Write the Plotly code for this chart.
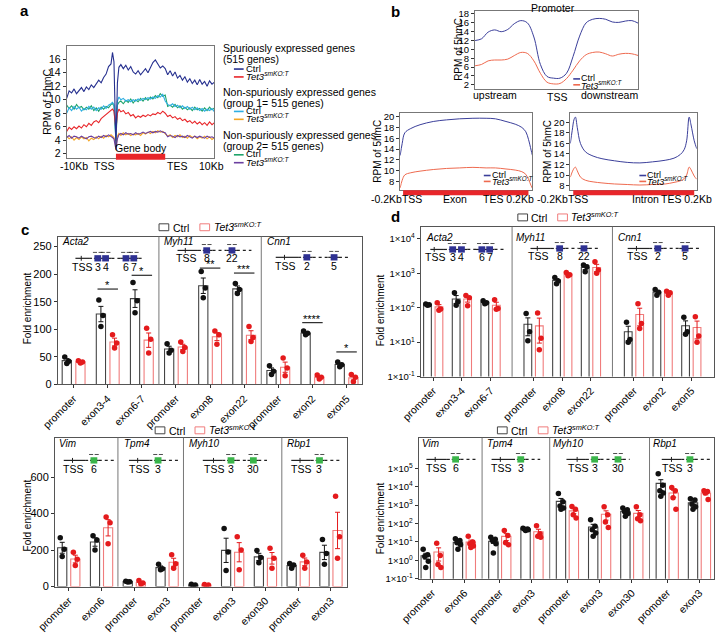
import numpy as np
import plotly.graph_objects as go

W, H = 723, 633
FONT = "Liberation Sans, Arial, Helvetica, sans-serif"
TET3 = "<i>Tet3<sup>smKO:T</sup></i>"

# ---------------- Panel a : 5hmC metagene profiles ----------------
A_X = [0, 5, 10, 15, 20, 25, 30, 35, 40, 45, 50, 55, 60, 65, 70, 75, 80, 85, 90, 93, 96, 100, 103, 106,
       110, 115, 120, 125, 130, 135, 140, 145, 150, 155, 160, 165, 170, 175, 180, 185, 190, 195, 200,
       205, 210, 215, 220, 225, 230, 235, 240, 245, 250, 255, 260, 265, 270, 275, 280, 285, 290, 295, 300]
A_SPUR_CTRL = [10.2, 11.3, 11.0, 11.6, 10.9, 11.4, 11.8, 11.2, 11.9, 11.5, 12.2, 11.8, 12.4, 12.9, 12.5, 13.3, 13.8, 14.9, 15.3,
               17.0, 15.6, 3.0, 12.5, 14.8,
               15.2, 14.6, 15.1, 14.4, 14.9, 14.1, 13.8, 14.3, 13.7, 14.2, 14.6, 14.0, 14.8, 15.5, 15.9, 15.2, 14.7, 15.0, 14.6,
               13.7, 14.3, 13.5, 14.1, 13.2, 13.6, 12.9, 13.4, 12.6, 13.1, 12.4, 12.9, 12.2, 13.0, 12.3, 12.7, 12.0, 12.8, 12.3, 12.6]
A_SPUR_TET3 = [5.3, 5.9, 5.6, 6.0, 5.7, 6.1, 5.8, 6.3, 6.0, 6.5, 6.2, 6.7, 6.9, 6.6, 7.2, 7.5, 7.9, 8.1, 8.4,
               8.6, 8.3, 5.5, 8.0, 8.6,
               8.2, 8.4, 7.9, 8.1, 7.6, 7.8, 7.3, 7.6, 7.4, 7.7, 7.5, 7.8, 7.6, 7.9, 7.8, 8.1, 7.9, 8.3, 8.0,
               7.5, 7.7, 7.3, 7.5, 7.1, 7.3, 6.9, 7.1, 6.7, 6.9, 6.5, 6.8, 6.4, 6.7, 6.3, 6.6, 6.2, 6.7, 6.3, 6.6]
A_G1_CTRL = [8.0, 8.8, 8.4, 9.0, 8.6, 8.9, 8.3, 8.7, 8.5, 9.0, 8.6, 8.9, 8.4, 8.8, 8.6, 9.1, 8.7, 9.2, 9.4,
             9.6, 9.3, 4.0, 9.8, 10.4,
             10.0, 10.2, 9.8, 10.0, 9.7, 10.0, 9.8, 10.1, 9.9, 10.2, 10.0, 10.3, 10.1, 10.4, 10.2, 10.6, 10.4, 10.8, 9.8,
             9.3, 9.1, 9.4, 9.0, 9.2, 8.8, 9.1, 8.7, 9.0, 8.6, 8.9, 8.5, 8.8, 8.4, 8.7, 8.3, 8.6, 8.4, 8.7, 8.2]
A_G1_TET3 = [4.6, 4.2, 4.5, 4.0, 4.4, 4.1, 4.5, 4.2, 4.4, 3.9, 4.3, 4.1, 4.5, 4.2, 4.6, 4.3, 4.7, 4.5, 4.8,
             4.6, 4.4, 3.0, 4.6, 5.0,
             4.7, 5.1, 4.8, 5.0, 4.7, 4.9, 4.8, 5.0, 4.7, 5.1, 4.9, 5.2, 5.0, 5.3, 5.1, 5.4, 5.2, 5.3, 5.0,
             4.6, 4.8, 4.4, 4.7, 4.5, 4.8, 4.4, 4.6, 4.3, 4.7, 4.4, 4.6, 4.2, 4.5, 4.3, 4.6, 4.2, 4.5, 4.1, 4.4]
A_G2_CTRL = [9.2, 8.7, 9.1, 8.6, 9.3, 8.8, 9.0, 8.5, 8.9, 8.6, 9.1, 8.4, 8.8, 8.3, 8.9, 8.6, 9.0, 8.8, 9.3,
             9.4, 9.1, 3.8, 9.2, 9.6,
             9.8, 9.4, 9.9, 9.6, 10.1, 9.5, 10.0, 9.7, 10.2, 9.8, 10.3, 9.9, 10.4, 10.1, 10.6, 10.3, 10.9, 10.5, 10.7,
             9.0, 9.2, 8.9, 9.3, 8.8, 9.1, 8.6, 8.9, 8.5, 8.8, 8.4, 8.9, 8.5, 8.7, 8.3, 8.8, 8.4, 8.9, 8.5, 8.8]
A_G2_TET3 = [4.4, 4.7, 4.3, 4.6, 4.5, 4.3, 4.6, 4.4, 4.2, 4.5, 4.6, 4.4, 4.3, 4.6, 4.4, 4.7, 4.5, 4.8, 4.6,
             4.4, 4.2, 2.6, 4.2, 4.8,
             5.0, 4.8, 5.1, 4.9, 5.0, 4.8, 5.1, 4.9, 5.0, 5.2, 5.0, 5.1, 5.3, 5.1, 5.3, 5.2, 5.4, 5.2, 5.1,
             4.5, 4.7, 4.6, 4.4, 4.7, 4.5, 4.6, 4.4, 4.7, 4.5, 4.3, 4.6, 4.4, 4.6, 4.5, 4.3, 4.6, 4.4, 4.5, 4.3]

# ---------------- Panel b : promoter / exon / intron ----------------
B_PROM_X = [0, 4, 8, 12, 16, 20, 24, 28, 32, 36, 40, 44, 48, 52, 56, 60, 64, 68, 72, 76, 80, 84, 88, 92, 96, 100]
B_PROM_CTRL = [12.0, 12.4, 13.9, 14.4, 14.0, 14.5, 15.8, 16.5, 16.0, 12.8, 6.6, 3.9, 3.5, 3.5, 4.6, 8.4, 13.0, 16.0,
               16.8, 17.0, 16.8, 16.2, 16.1, 16.4, 16.5, 15.9]
B_PROM_TET3 = [6.3, 6.6, 7.4, 7.6, 7.6, 7.8, 8.6, 9.3, 9.1, 7.4, 4.6, 2.6, 2.2, 2.3, 3.4, 5.3, 7.4, 8.8,
               9.3, 9.4, 9.0, 8.5, 8.9, 9.1, 9.0, 8.6]
B_EXON_X = [0, 1.5, 3.5, 8, 15, 25, 35, 45, 55, 65, 72, 80, 87, 92, 95, 97, 99, 100]
B_EXON_CTRL = [12.8, 15.0, 17.0, 17.8, 18.5, 19.1, 19.4, 19.6, 19.7, 19.7, 19.6, 19.1, 18.6, 18.0, 17.2, 15.8, 13.8, 12.8]
B_EXON_TET3 = [6.8, 8.2, 9.2, 9.6, 9.9, 10.2, 10.4, 10.5, 10.6, 10.5, 10.5, 10.3, 10.1, 9.8, 9.3, 8.4, 7.2, 6.7]
B_INT_X = [0, 1.5, 3, 4, 5.5, 8, 12, 18, 25, 35, 45, 55, 65, 75, 82, 87, 90, 92, 94, 95.5, 98, 100]
B_INT_CTRL = [16.0, 18.5, 20.6, 21.0, 19.0, 16.0, 14.4, 13.6, 13.1, 12.7, 12.4, 12.3, 12.5, 12.8, 13.2, 13.9, 14.8,
              16.5, 21.0, 19.5, 16.5, 15.0]
B_INT_TET3 = [9.6, 10.6, 11.3, 11.5, 10.8, 9.6, 9.0, 8.7, 8.5, 8.3, 8.2, 8.1, 8.2, 8.3, 8.6, 8.9, 9.3, 10.0,
              11.5, 11.0, 9.8, 9.2]

# ---------------- Panel c / d : ChIP fold enrichment ----------------
CAT_TOP = ["promoter", "exon3-4", "exon6-7", "promoter", "exon8", "exon22", "promoter", "exon2", "exon5"]
CAT_BOT = ["promoter", "exon6", "promoter", "exon3", "promoter", "exon3", "exon30", "promoter", "exon3"]

CT_CTRL = [[50, 42, 38], [153, 125, 105], [185, 152, 130], [74, 62, 57], [205, 175, 157],
           [183, 172, 165], [34, 24, 18], [97, 93, 90], [41, 36, 32]]
CT_TET3 = [[43, 41, 39], [90, 75, 66], [102, 82, 57], [77, 67, 60], [97, 90, 73],
           [105, 85, 78], [48, 30, 16], [17, 13, 10], [18, 13, 5]]
CB_CTRL = [[268, 205, 165], [278, 255, 200], [29, 27, 25], [122, 98, 92], [13, 9, 5],
           [318, 190, 88], [198, 160, 130], [126, 118, 100], [258, 182, 122]]
CB_TET3 = [[188, 150, 115], [382, 350, 235], [33, 20, 14], [175, 125, 100], [11, 8, 5],
           [273, 200, 92], [210, 155, 100], [172, 135, 100], [495, 273, 155]]
DT_CTRL = [[128, 122, 118], [270, 150, 118], [160, 140, 130], [68, 20, 11], [760, 600, 500],
           [1750, 1550, 1100], [38, 12, 10], [340, 280, 230], [53, 20, 17]]
DT_TET3 = [[140, 92, 85], [225, 195, 115], [170, 95, 90], [70, 13, 6], [1050, 900, 850],
           [2150, 1250, 1000], [130, 35, 25], [300, 270, 230], [55, 15, 10]]
DB_CTRL = [[4.0, 2.0, 1.6, 0.9, 0.4], [15, 12, 9, 7, 4], [18, 14, 12, 8, 2.5], [55, 50, 48, 45, 42],
           [4300, 1500, 900, 700, 600], [160, 70, 45, 30, 20], [700, 550, 450, 350, 250],
           [50000, 12000, 6000, 4500, 3000], [2200, 1900, 1100, 800, 600]]
DB_TET3 = [[8.5, 1.8, 0.6, 0.4], [20, 10, 8, 6, 5], [42, 22, 9, 7], [75, 28, 20, 18],
           [850, 600, 300, 200], [800, 300, 120, 60], [800, 300, 180, 140],
           [9000, 6000, 2500, 600], [6000, 5500, 4500, 2000]]
SIG_C = [(1, 173, "*"), (2, 198, "*"), (4, 211, "**"), (5, 202, "***"), (7, 112, "****"), (8, 59, "*")]

POS_CT = [0, 1, 2, 3, 4, 5, 6, 7, 8]
POS_CB = [0, 1, 2, 3, 4, 5, 6, 7, 8]
POS_DT = [0, 1, 2, 3.5, 4.5, 5.5, 7, 8, 9]
POS_DB = [0, 1, 2.1, 3.1, 4.2, 5.2, 6.2, 7.3, 8.3]

NAVY = "#26308f"
RED = "#e8262a"
CYAN = "#2eaee3"
ORANGE = "#f5a623"
GREEN = "#1ea36a"
PURPLE = "#6b3fa0"
B_NAVY = "#3b3f9a"
B_RED = "#ee6a4f"
CTRL_LINE = "#444444"
TET_LINE = "#f07c7c"
TET_PT = "#e41a1c"
BLUE_BOX = "#2e3192"
GREEN_BOX = "#3ab54a"


def fx(p):
    return p / W


def fy(p):
    return 1 - p / H


fig = go.Figure()
ann = []
shp = []


def txt(x, y, s, size=10, xa="center", ya="middle", angle=0, color="black"):
    ann.append(dict(x=fx(x), y=fy(y), xref="paper", yref="paper", text=s, showarrow=False,
                    xanchor=xa, yanchor=ya, textangle=angle, borderpad=0,
                    font=dict(size=size, color=color, family=FONT)))


def pline(x0, y0, x1, y1, color="black", width=1, dash="solid"):
    shp.append(dict(type="line", xref="paper", yref="paper", x0=fx(x0), y0=fy(y0), x1=fx(x1), y1=fy(y1),
                    line=dict(color=color, width=width, dash=dash)))


def prect(x0, y0, x1, y1, fill=None, lc=None, lw=0):
    shp.append(dict(type="rect", xref="paper", yref="paper", x0=fx(x0), y0=fy(y0), x1=fx(x1), y1=fy(y1),
                    fillcolor=fill if fill else "rgba(0,0,0,0)",
                    line=dict(color=lc if lc else "rgba(0,0,0,0)", width=lw)))


# ---------- panel a traces ----------
for ys, col in [(A_G2_CTRL, GREEN), (A_G1_CTRL, CYAN), (A_G1_TET3, ORANGE), (A_G2_TET3, PURPLE),
                (A_SPUR_TET3, RED), (A_SPUR_CTRL, NAVY)]:
    fig.add_trace(go.Scatter(x=A_X, y=ys, mode="lines", line=dict(color=col, width=1.1),
                             xaxis="x", yaxis="y", hoverinfo="skip"))

# ---------- panel b traces ----------
for xs, c1, c2, xa, ya in [(B_PROM_X, B_PROM_CTRL, B_PROM_TET3, "x2", "y2"),
                           (B_EXON_X, B_EXON_CTRL, B_EXON_TET3, "x3", "y3"),
                           (B_INT_X, B_INT_CTRL, B_INT_TET3, "x4", "y4")]:
    fig.add_trace(go.Scatter(x=xs, y=c2, mode="lines", line=dict(color=B_RED, width=1, shape="spline"),
                             xaxis=xa, yaxis=ya))
    fig.add_trace(go.Scatter(x=xs, y=c1, mode="lines", line=dict(color=B_NAVY, width=1, shape="spline"),
                             xaxis=xa, yaxis=ya))

# ---------- bar panels ----------
JIT = {3: [-0.06, 0.06, 0.0], 4: [-0.06, 0.05, -0.02, 0.07], 5: [-0.08, 0.06, -0.03, 0.08, 0.0]}


def bar_panel(xa, ya, pos, ctrl, tet3, off, bw):
    for pts, lc, pc, ec, sgn in [(ctrl, CTRL_LINE, "#111111", "#111111", -1),
                                 (tet3, TET_LINE, TET_PT, TET_PT, 1)]:
        means = [float(np.mean(p)) for p in pts]
        sems = [float(np.std(p, ddof=1) / np.sqrt(len(p))) for p in pts]
        xs = [p + sgn * off for p in pos]
        fig.add_trace(go.Bar(x=xs, y=means, width=bw, xaxis=xa, yaxis=ya,
                             marker=dict(color="rgba(255,255,255,0)", line=dict(color=lc, width=1.1)),
                             error_y=dict(type="data", array=sems, color=ec, thickness=1, width=2.5)))
        px_, py_ = [], []
        for i, p in enumerate(pts):
            j = JIT[len(p)]
            for k, v in enumerate(p):
                px_.append(xs[i] + j[k])
                py_.append(v)
        fig.add_trace(go.Scatter(x=px_, y=py_, mode="markers", xaxis=xa, yaxis=ya,
                                 marker=dict(size=5.5, color=pc)))


bar_panel("x5", "y5", POS_CT, CT_CTRL, CT_TET3, 0.2, 0.27)
bar_panel("x6", "y6", POS_CB, CB_CTRL, CB_TET3, 0.2, 0.28)
bar_panel("x7", "y7", POS_DT, DT_CTRL, DT_TET3, 0.2, 0.27)
bar_panel("x8", "y8", POS_DB, DB_CTRL, DB_TET3, 0.2, 0.29)

# ---------- axes ----------
FRAME = "#777777"


def base_ax(dom, anchor, **kw):
    d = dict(domain=dom, anchor=anchor, showline=True, mirror=True, linecolor=FRAME, linewidth=1,
             showgrid=False, zeroline=False, ticks="outside", ticklen=3, tickwidth=1, tickcolor="#333",
             tickfont=dict(size=10, family=FONT, color="black"))
    d.update(kw)
    return d


def xdom(a, b):
    return [fx(a), fx(b)]


def ydom(top, bottom):
    return [fy(bottom), fy(top)]


layout = dict(width=W, height=H, margin=dict(l=0, r=0, t=0, b=0), paper_bgcolor="white",
              plot_bgcolor="rgba(0,0,0,0)", showlegend=False, barmode="overlay",
              font=dict(family=FONT, size=10, color="black"))

layout["xaxis"] = base_ax(xdom(48, 200), "y", range=[0, 300], showticklabels=False, ticks="")
layout["yaxis"] = base_ax(ydom(44, 157), "x", range=[1.4, 17.9], tickvals=[2, 4, 6, 8, 10, 12, 14, 16],
                          tickfont=dict(size=10.5, family=FONT))
layout["xaxis2"] = base_ax(xdom(468, 636), "y2", range=[0, 100], showticklabels=False, ticks="")
layout["yaxis2"] = base_ax(ydom(8, 87), "x2", range=[1.1, 18.7], tickvals=[2, 4, 6, 8, 10, 12, 14, 16, 18],
                           tickfont=dict(size=9.5, family=FONT))
layout["xaxis3"] = base_ax(xdom(391, 527), "y3", range=[0, 100], showticklabels=False, ticks="")
layout["yaxis3"] = base_ax(ydom(112, 190), "x3", range=[6.35, 20.6], tickvals=[8, 10, 12, 14, 16, 18, 20],
                           tickfont=dict(size=9.5, family=FONT))
layout["xaxis4"] = base_ax(xdom(566, 696), "y4", range=[0, 100], showticklabels=False, ticks="")
layout["yaxis4"] = base_ax(ydom(112, 190), "x4", range=[7.1, 21.7], tickvals=[8, 10, 12, 14, 16, 18, 20],
                           tickfont=dict(size=9.5, family=FONT))
layout["xaxis5"] = base_ax(xdom(39, 352), "y5", range=[-0.46, 8.46], tickvals=POS_CT, ticktext=CAT_TOP,
                           tickangle=-45, tickfont=dict(size=10.5, family=FONT), linecolor="#555")
layout["yaxis5"] = base_ax(ydom(237, 387), "x5", range=[0, 268], tickvals=[0, 50, 100, 150, 200, 250],
                           tickfont=dict(size=11, family=FONT), linecolor="#555")
layout["xaxis6"] = base_ax(xdom(36, 336), "y6", range=[-0.42, 8.48], tickvals=POS_CB, ticktext=CAT_BOT,
                           tickangle=-45, tickfont=dict(size=10.5, family=FONT), linecolor="#555")
layout["yaxis6"] = base_ax(ydom(441, 592), "x6", range=[0, 816], tickvals=[0, 200, 400, 600],
                           tickfont=dict(size=11, family=FONT), linecolor="#555")
LOGTXT = {-1: "1×10<sup>-1</sup>", 0: "1×10<sup>0</sup>", 1: "1×10<sup>1</sup>", 2: "1×10<sup>2</sup>",
          3: "1×10<sup>3</sup>", 4: "1×10<sup>4</sup>", 5: "1×10<sup>5</sup>"}
layout["xaxis7"] = base_ax(xdom(412, 714), "y7", range=[-0.44, 9.8], tickvals=POS_DT, ticktext=CAT_TOP,
                           tickangle=-45, tickfont=dict(size=10.5, family=FONT), linecolor="#555")
layout["yaxis7"] = base_ax(ydom(227, 379), "x7", type="log", range=[0, 4.35],
                           tickvals=[1, 10, 100, 1000, 10000],
                           ticktext=[LOGTXT[-1], LOGTXT[1], LOGTXT[2], LOGTXT[3], LOGTXT[4]],
                           tickfont=dict(size=9.5, family=FONT), linecolor="#555")
layout["xaxis8"] = base_ax(xdom(410, 714), "y8", range=[-0.42, 8.76], tickvals=POS_DB, ticktext=CAT_BOT,
                           tickangle=-45, tickfont=dict(size=10.5, family=FONT), linecolor="#555")
layout["yaxis8"] = base_ax(ydom(441, 584), "x8", type="log", range=[-1, 6.66],
                           tickvals=[0.1, 1, 10, 100, 1000, 10000, 100000],
                           ticktext=[LOGTXT[k] for k in [-1, 0, 1, 2, 3, 4, 5]],
                           tickfont=dict(size=9.5, family=FONT), linecolor="#555")

for xa, ya, divs in [("x5", "y5", [2.5, 5.5]), ("x6", "y6", [1.5, 3.5, 6.5]),
                     ("x7", "y7", [2.75, 6.25]), ("x8", "y8", [1.55, 3.65, 6.75])]:
    for d in divs:
        shp.append(dict(type="line", xref=xa, yref=ya + " domain", x0=d, x1=d, y0=0, y1=1,
                        line=dict(color=FRAME, width=1)))

shp.append(dict(type="rect", xref="x", yref="paper", x0=100, x1=200, y0=fy(159), y1=fy(153),
                fillcolor=RED, line=dict(width=0)))
shp.append(dict(type="rect", xref="x3", yref="paper", x0=2.2, x1=97, y0=fy(195), y1=fy(190),
                fillcolor=RED, line=dict(width=0)))
shp.append(dict(type="rect", xref="x4", yref="paper", x0=2.3, x1=98, y0=fy(195), y1=fy(190),
                fillcolor=RED, line=dict(width=0)))

for p, yv, s in SIG_C:
    shp.append(dict(type="line", xref="x5", yref="y5", x0=POS_CT[p] - 0.3, x1=POS_CT[p] + 0.3, y0=yv, y1=yv,
                    line=dict(color="black", width=1)))
    ann.append(dict(x=POS_CT[p], y=yv, xref="x5", yref="y5", text=s, showarrow=False, yanchor="bottom",
                    yshift=-4, font=dict(size=11, family=FONT, color="black")))

for s, x, y in [("a", 5, 8), ("b", 386, 9), ("c", 5, 230), ("d", 386, 217)]:
    txt(x, y, "<b>%s</b>" % s, size=15)

# panel a text
txt(27, 100, "RPM of 5hmC", size=10.5, angle=-90)
for s, x in [("-10Kb", 56), ("TSS", 86), ("TES", 161), ("10Kb", 197)]:
    txt(x, 165, s, size=10.5)
txt(124, 147, "Gene body", size=10.5)
LEG_A = [("Spuriously expressed genes", 46), ("(515 genes)", 57),
         ("Non-spuriously expressed genes", 90), ("(group 1= 515 genes)", 101),
         ("Non-spuriously expressed genes", 134), ("(group 2= 515 genes)", 145)]
for s, y in LEG_A:
    txt(208, y, s, size=10.5, xa="left")
for col, lab, y in [(NAVY, "Ctrl", 67), (RED, TET3, 75), (CYAN, "Ctrl", 110), (ORANGE, TET3, 118),
                    (GREEN, "Ctrl", 154), (PURPLE, TET3, 162)]:
    pline(220, y, 230, y, color=col, width=1.6)
    txt(231, y - 1, lab, size=9.5, xa="left")

# panel b text
txt(548, 5, "Promoter", size=10.5)
txt(451, 47, "RPM of 5hmC", size=10, angle=-90)
txt(488, 93, "upstream", size=10.5)
txt(552, 95, "TSS", size=10.5)
txt(606, 93, "downstream", size=10.5)
for x0, y0 in [(569, 77), (477, 175), (637, 175)]:
    pline(x0, y0, x0 + 7, y0, color=B_NAVY, width=1.6)
    pline(x0, y0 + 6, x0 + 7, y0 + 6, color=B_RED, width=1.6)
    txt(x0 + 7, y0 - 1, "Ctrl", size=9, xa="left")
    txt(x0 + 7, y0 + 6, TET3, size=9, xa="left")
txt(368, 150, "RPM of 5hmC", size=10, angle=-90)
txt(543, 150, "RPM of 5hmC", size=10, angle=-90)
for s, x, xa in [("-0.2KbTSS", 360, "left"), ("Exon", 447, "center"), ("TES 0.2Kb", 530, "right"),
                 ("-0.2KbTSS", 531, "left"), ("Intron", 643, "center"), ("TES 0.2Kb", 713, "right")]:
    txt(x, 199, s, size=10.5, xa=xa)

for x, y in [(8, 310), (8, 520), (371, 312), (371, 523)]:
    txt(x, y, "Fold enrichment", size=10, angle=-90)

for bx, tx, y in [(143, 185, 228), (139, 180, 434), (512, 553, 218), (491, 533, 434)]:
    prect(bx, y - 4, bx + 10, y + 3, lc=CTRL_LINE, lw=1)
    txt(bx + 13, y, "Ctrl", size=10.5, xa="left")
    prect(tx, y - 4, tx + 10, y + 3, lc=TET_LINE, lw=1)
    txt(tx + 13, y - 1, TET3, size=10.5, xa="left")

for s, x, y in [("Acta2", 42, 242), ("Myh11", 147, 242), ("Cnn1", 253, 242),
                ("Vim", 39, 447), ("Tpm4", 106, 447), ("Myh10", 173, 447), ("Rbp1", 274, 447),
                ("Acta2", 417, 238), ("Myh11", 509, 238), ("Cnn1", 614, 238),
                ("Vim", 412, 447), ("Tpm4", 479, 447), ("Myh10", 547, 447), ("Rbp1", 650, 447)]:
    txt(x, y, "<i>%s</i>" % s, size=10, xa="left")


def gene(x0, x1, y, tss, boxes, nums, col, dy=9):
    # backbone: solid near the TSS and around exons, dotted across introns
    segs = [(x0, boxes[0] - 9, "solid"), (boxes[0] - 9, boxes[0] - 4, "dot")]
    for a, b in zip(boxes[:-1], boxes[1:]):
        if b - a > 12:
            segs += [(a, a + 6, "solid"), (a + 6, b - 6, "dot"), (b - 6, b, "solid")]
        else:
            segs.append((a, b, "solid"))
    segs += [(boxes[0] - 4, boxes[0], "solid"), (boxes[-1], boxes[-1] + 5, "solid"),
             (boxes[-1] + 5, x1, "dot")]
    for a, b, dsh in segs:
        pline(a, y, b, y, color="#222", width=1.2, dash=dsh)
    pline(tss, y - 2.5, tss, y + 2.5, color="#222", width=1)
    for bxp in boxes:
        prect(bxp - 3.5, y - 3.2, bxp + 3.5, y + 3.2, fill=col)
        pline(bxp - 5, y - 6, bxp - 0.8, y - 6, color="#222", width=0.8)
        pline(bxp + 0.8, y - 6, bxp + 5, y - 6, color="#222", width=0.8)
    txt(tss + 1, y + dy, "TSS", size=10.5)
    for bxp, n in zip(boxes, nums):
        txt(bxp, y + dy, n, size=10.5)


gene(57, 128, 259, 63, [80, 88, 109, 117], ["3", "4", "6", "7"], BLUE_BOX)
gene(162, 238, 251, 170, [192, 218], ["8", "22"], BLUE_BOX, dy=8)
gene(263, 338, 258, 272, [295, 323], ["2", "5"], BLUE_BOX)
gene(45, 97, 464, 54, [76], ["6"], GREEN_BOX)
gene(112, 163, 464, 121, [142], ["3"], GREEN_BOX)
gene(188, 254, 464, 199, [217, 240], ["3", "30"], GREEN_BOX)
gene(279, 330, 464, 288, [308], ["3"], GREEN_BOX)
gene(422, 499, 250, 426, [445, 454, 475, 483], ["3", "4", "6", "7"], BLUE_BOX, dy=8)
gene(525, 595, 249, 532, [555, 580], ["8", "22"], BLUE_BOX, dy=8)
gene(625, 700, 249, 634, [656, 684], ["2", "5"], BLUE_BOX, dy=8)
gene(418, 469, 463, 427, [448], ["6"], GREEN_BOX)
gene(485, 535, 463, 494, [515], ["3"], GREEN_BOX)
gene(562, 627, 463, 573, [591, 615], ["3", "30"], GREEN_BOX)
gene(660, 712, 463, 670, [689], ["3"], GREEN_BOX)

layout["annotations"] = ann
layout["shapes"] = shp
fig.update_layout(**layout)
fig.write_html("out.html", config={"displayModeBar": False},
               post_script="document.body.style.margin='0px';")
